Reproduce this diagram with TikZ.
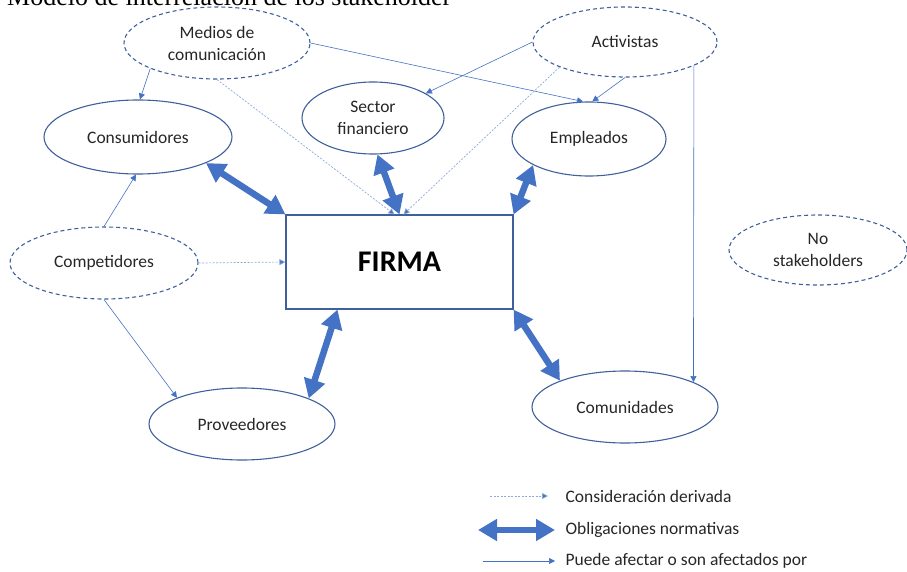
\documentclass[tikz,border=0pt]{standalone}
\usepackage{fontspec}
\setmainfont{Carlito}
\newfontfamily\titlefont{Liberation Serif}
\usetikzlibrary{shapes.geometric,arrows.meta}
\definecolor{outline}{HTML}{40609C}
\definecolor{accent}{HTML}{4472C4}
\definecolor{softaccent}{HTML}{8EA9DB}
\tikzset{
  party/.style={ellipse, draw=outline, line width=1.1pt, inner sep=0pt,
    align=center, text=black!85, font=\fontsize{17.5}{22}\selectfont},
  outerparty/.style={party, dash pattern=on 4pt off 3pt},
  firmbox/.style={rectangle, draw=outline, line width=1.1pt,
    minimum width=227pt, minimum height=94pt, inner sep=0pt,
    font=\bfseries\fontsize{30}{34}\selectfont},
  affects/.style={draw=accent, line width=0.6pt, -{Triangle[width=6pt,length=6pt]}},
  derived/.style={draw=softaccent, line width=0.7pt, dash pattern=on 2pt off 1.5pt,
    -{Triangle[width=6pt,length=6pt,fill=accent]}},
  duty/.style={draw=accent, line width=6.5pt,
    {Triangle[width=21pt,length=19pt]}-{Triangle[width=21pt,length=19pt]}},
  legendtext/.style={anchor=west, text=black!85, font=\fontsize{17.5}{21}\selectfont}
}
\begin{document}
\begin{tikzpicture}[x=1pt,y=-1pt]
  \useasboundingbox (0,0) rectangle (907,572);

  % heading, partly above the page edge
  \node[anchor=base west, inner sep=0pt, font=\titlefont\fontsize{26}{30}\selectfont]
    (heading) at (7,6) {Modelo de interrelación de los stakeholder};

  % central firm
  \node[firmbox] (firma) at (399.5,262) {FIRMA};

  % stakeholders with direct obligations
  \node[party, minimum width=188pt, minimum height=74pt] (cons) at (138,137) {Consumidores};
  \node[party, minimum width=142pt, minimum height=72pt] (sec) at (373,118) {Sector\\financiero};
  \node[party, minimum width=154pt, minimum height=74pt] (emp) at (589,139) {Empleados};
  \node[party, minimum width=186pt, minimum height=72pt] (prov) at (242,424) {Proveedores};
  \node[party, minimum width=186pt, minimum height=72pt] (com) at (625,407) {Comunidades};

  % derived / external parties
  \node[outerparty, minimum width=186pt, minimum height=72pt] (med) at (217,43) {Medios de\\comunicación};
  \node[outerparty, minimum width=184pt, minimum height=70pt] (act) at (625,42) {Activistas};
  \node[outerparty, minimum width=188pt, minimum height=72pt] (comp) at (104,263) {Competidores};
  \node[outerparty, minimum width=178pt, minimum height=70pt] (nost) at (818,250) {No\\stakeholders};

  % normative obligations
  \draw[duty] (cons.-21) -- (firma.north west);
  \draw[duty] (sec.-83) -- (firma.north);
  \draw[duty] (emp.205) -- (firma.north east);
  \draw[duty] ([xshift=-62pt]firma.south) -- (prov.21);
  \draw[duty] (firma.south east) -- (com.158);

  % can affect / are affected by
  \draw[affects] (med.201) -- (cons.87);
  \draw[affects] (med.east) -- (emp.99);
  \draw[affects] (act.west) -- (sec.25);
  \draw[affects] (act.south) -- (emp.85);
  \draw[affects] (act.-19.7) -- (com.20.5);
  \draw[affects] (comp.north) -- (cons.-93);
  \draw[affects] (comp.south) -- (prov.158);

  % derived consideration
  \draw[derived] (med.south) -- ([xshift=-5pt]firma.north);
  \draw[derived] (act.201) -- ([xshift=4pt]firma.north);
  \draw[derived] (comp.east) -- (firma.west);

  % legend
  \coordinate (la1) at (490,496);
  \coordinate (lb1) at (548,496);
  \coordinate (la2) at (478,530);
  \coordinate (lb2) at (555,530);
  \coordinate (la3) at (483,561);
  \coordinate (lb3) at (555,561);
  \draw[derived] (la1) -- (lb1);
  \draw[duty] (la2) -- (lb2);
  \draw[affects] (la3) -- (lb3);
  \node[legendtext] (t1) at (562,496) {Consideración derivada};
  \node[legendtext] (t2) at (562,530) {Obligaciones normativas};
  \node[legendtext] (t3) at (562,561) {Puede afectar o son afectados por};
\end{tikzpicture}
\end{document}
